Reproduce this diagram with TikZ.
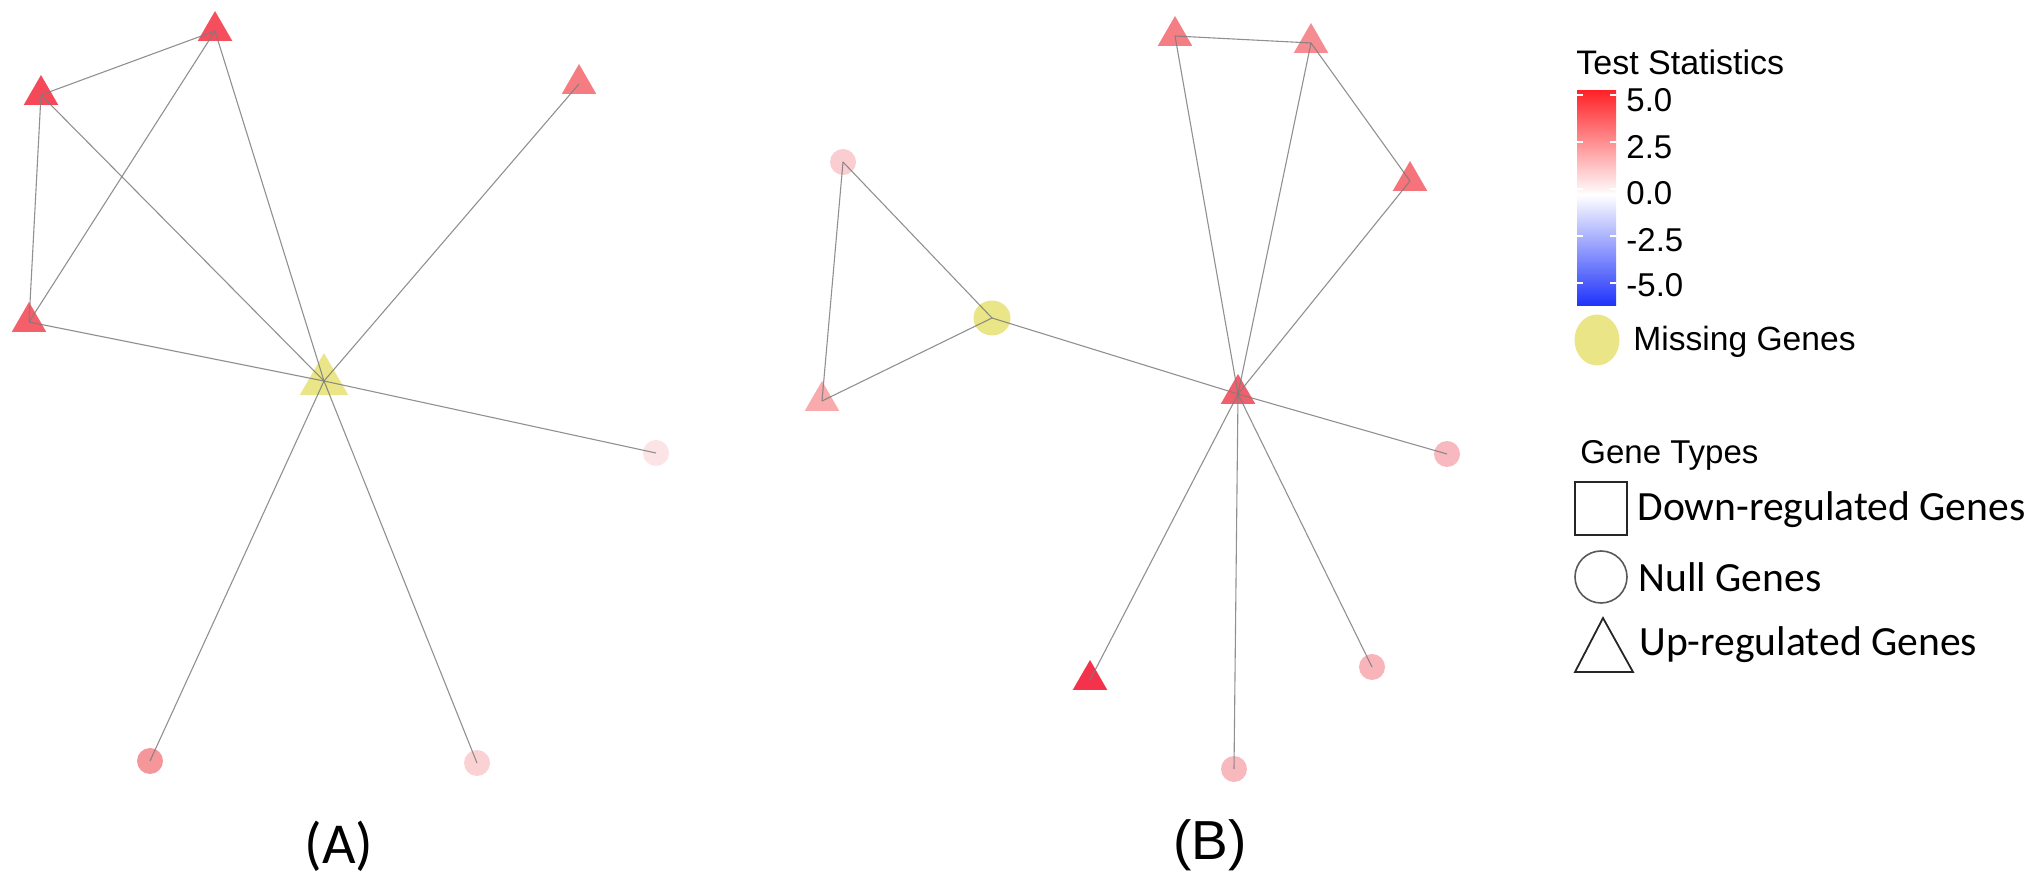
\documentclass[tikz,border=0pt]{standalone}
\usepackage{fontspec}
\setmainfont{Liberation Sans}
\newfontfamily\carl{Carlito}
\usetikzlibrary{shapes.geometric}
\definecolor{cA1}{RGB}{245,78,92}
\definecolor{cA2}{RGB}{245,72,88}
\definecolor{cA3}{RGB}{245,125,130}
\definecolor{cA4}{RGB}{245,95,105}
\definecolor{cYel}{RGB}{234,230,135}
\definecolor{cA5}{RGB}{252,228,230}
\definecolor{cA6}{RGB}{245,150,155}
\definecolor{cA7}{RGB}{250,210,212}
\definecolor{cB1}{RGB}{245,125,132}
\definecolor{cB2}{RGB}{245,140,146}
\definecolor{cB3}{RGB}{245,115,122}
\definecolor{cB4}{RGB}{250,205,208}
\definecolor{cB6}{RGB}{248,170,173}
\definecolor{cBH}{RGB}{240,95,107}
\definecolor{cB7}{RGB}{248,185,190}
\definecolor{cB8}{RGB}{245,50,75}
\definecolor{cB9}{RGB}{248,180,185}
\definecolor{cB10}{RGB}{248,185,190}
\definecolor{cbRed}{RGB}{255,35,40}
\definecolor{cbRedMid}{RGB}{243,125,130}
\definecolor{cbBlueMid}{RGB}{130,135,240}
\definecolor{cbBlue}{RGB}{30,50,250}
\definecolor{edgecol}{RGB}{125,125,125}
\begin{document}
\begin{tikzpicture}[x=0.5pt,y=-0.5pt,
  tri/.style={regular polygon,regular polygon sides=3,inner sep=0pt,minimum size=20pt,draw=none,fill=#1},
  bigtri/.style={regular polygon,regular polygon sides=3,inner sep=0pt,minimum size=28pt,draw=none,fill=#1},
  dot/.style={circle,inner sep=0pt,minimum size=13pt,draw=none,fill=#1},
  edge/.style={draw=edgecol,line width=0.55pt,opacity=0.85},
  lbl/.style={anchor=west,inner sep=0pt,font=\fontsize{16.5}{19}\selectfont},
  clbl/.style={anchor=west,inner sep=0pt,font=\carl\fontsize{20.8}{24}\selectfont}]
\useasboundingbox (0,0) rectangle (2040,886);
% Panel A nodes
\node[tri=cA1] (A1) at (215,31) {};
\node[tri=cA2] (A2) at (41,95) {};
\node[tri=cA3] (A3) at (579,84) {};
\node[tri=cA4] (A4) at (29,322) {};
\node[bigtri=cYel] (AH) at (324,381) {};
\node[dot=cA5] (A5) at (656,453) {};
\node[dot=cA6] (A6) at (150,761) {};
\node[dot=cA7] (A7) at (477,763) {};
% Panel A edges
\draw[edge] (A1.center) -- (A2.center);
\draw[edge] (A1.center) -- (A4.center);
\draw[edge] (A1.center) -- (AH.center);
\draw[edge] (A2.center) -- (A4.center);
\draw[edge] (A2.center) -- (AH.center);
\draw[edge] (A4.center) -- (AH.center);
\draw[edge] (A3.center) -- (AH.center);
\draw[edge] (AH.center) -- (A5.center);
\draw[edge] (AH.center) -- (A6.center);
\draw[edge] (AH.center) -- (A7.center);
% Panel B nodes
\node[tri=cB1] (B1) at (1175,36) {};
\node[tri=cB2] (B2) at (1311,43) {};
\node[tri=cB3] (B3) at (1410,181) {};
\node[dot=cB4] (B4) at (843,162) {};
\node[ellipse,inner sep=0pt,minimum width=18.5pt,minimum height=17.5pt,fill=cYel] (B5) at (992,318) {};
\node[tri=cB6] (B6) at (822,401) {};
\node[tri=cBH] (BH) at (1238,394) {};
\node[dot=cB7] (B7) at (1447,454) {};
\node[tri=cB8] (B8) at (1090,680) {};
\node[dot=cB9] (B9) at (1372,667) {};
\node[dot=cB10] (B10) at (1234,769) {};
% Panel B edges
\draw[edge] (B1.center) -- (B2.center);
\draw[edge] (B1.center) -- (BH.center);
\draw[edge] (B2.center) -- (BH.center);
\draw[edge] (B2.center) -- (B3.center);
\draw[edge] (B3.center) -- (BH.center);
\draw[edge] (B4.center) -- (B5.center);
\draw[edge] (B4.center) -- (B6.center);
\draw[edge] (B6.center) -- (B5.center);
\draw[edge] (B5.center) -- (BH.center);
\draw[edge] (BH.center) -- (B7.center);
\draw[edge] (BH.center) -- (B8.center);
\draw[edge] (BH.center) -- (B9.center);
\draw[edge] (BH.center) -- (B10.center);
% Panel labels
\node[inner sep=0pt,font=\carl\fontsize{29}{32}\selectfont] (labA) at (339,846) {(A)};
\node[inner sep=0pt,font=\fontsize{27.5}{31}\selectfont] (labB) at (1210,845) {(B)};
% Legend: test statistics
\node[anchor=west,inner sep=0pt,font=\fontsize{17}{20}\selectfont] (ttl) at (1576,62) {Test Statistics};
\shade[top color=cbRed,middle color=cbRedMid,bottom color=white] (1577,91) rectangle (1616,195);
\shade[top color=white,middle color=cbBlueMid,bottom color=cbBlue] (1577,195) rectangle (1616,306);
\foreach \yy in {95,142,189,236,283}{
  \draw[white,line width=0.6pt] (1577,\yy) -- (1583,\yy);
  \draw[white,line width=0.6pt] (1610,\yy) -- (1616,\yy);
}
\node[lbl] (t1) at (1626,100) {5.0};
\node[lbl] (t2) at (1626,147) {2.5};
\node[lbl] (t3) at (1626,193) {0.0};
\node[lbl] (t4) at (1626,240) {-2.5};
\node[lbl] (t5) at (1626,285) {-5.0};
\node[ellipse,inner sep=0pt,minimum width=22.5pt,minimum height=25.5pt,fill=cYel] (lmiss) at (1597,340) {};
\node[lbl,font=\fontsize{16.8}{19}\selectfont] (tmiss) at (1633,342) {Missing Genes};
% Legend: gene types
\node[lbl] (tgt) at (1580,455) {Gene Types};
\draw[black!85,line width=1pt] (1575,482) rectangle (1627,535);
\node[clbl] (tdown) at (1637,510) {Down-regulated Genes};
\draw[black!65,line width=0.8pt] (1601,577) circle[radius=26];
\node[clbl] (tnull) at (1638,577) {Null Genes};
\draw[black!85,line width=0.9pt] (1603,618) -- (1575,672) -- (1633,672) -- cycle;
\node[clbl] (tup) at (1639,645) {Up-regulated Genes};
\end{tikzpicture}
\end{document}
